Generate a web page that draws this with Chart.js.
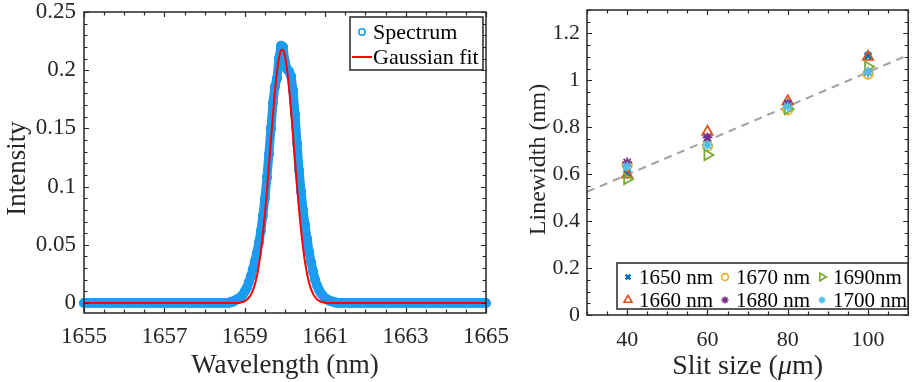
<!DOCTYPE html>
<html>
<head>
<meta charset="utf-8">
<script src="https://cdn.jsdelivr.net/npm/chart.js@4.4.1/dist/chart.umd.min.js"></script>
<style>
  html, body { margin: 0; padding: 0; background: #fff; }
  #wrap { position: relative; width: 916px; height: 382px; overflow: hidden; }
  canvas { position: absolute; top: 0; }
  #spec { left: 0; }
  #slit { left: 500px; }
</style>
</head>
<body>
<div id="wrap">
  <canvas id="spec" width="530" height="382"></canvas>
  <canvas id="slit" width="416" height="382"></canvas>
</div>
<script>
// ---------- Spectrum panel data ----------
const spectrumWavelength = [
  1655.0, 1655.1, 1655.2, 1655.3, 1655.4, 1655.5, 1655.6, 1655.7, 1655.8, 1655.9,
  1656.0, 1656.1, 1656.2, 1656.3, 1656.4, 1656.5, 1656.6, 1656.7, 1656.8, 1656.9,
  1657.0, 1657.1, 1657.2, 1657.3, 1657.4, 1657.5, 1657.6, 1657.7, 1657.8, 1657.9,
  1658.0, 1658.1, 1658.2, 1658.3, 1658.4, 1658.5,
  1658.60, 1658.65, 1658.70, 1658.75, 1658.80, 1658.85, 1658.90, 1658.95, 1659.00, 1659.05,
  1659.10, 1659.15, 1659.20, 1659.25, 1659.30, 1659.35, 1659.40, 1659.45, 1659.50, 1659.55,
  1659.60, 1659.65, 1659.70, 1659.75, 1659.80, 1659.85, 1659.90, 1659.95, 1660.00, 1660.05,
  1660.10, 1660.15, 1660.20, 1660.25, 1660.30, 1660.35, 1660.40, 1660.45, 1660.50, 1660.55,
  1660.60, 1660.65, 1660.70, 1660.75, 1660.80, 1660.85, 1660.90, 1660.95, 1661.00, 1661.05,
  1661.10, 1661.15, 1661.20, 1661.25, 1661.30, 1661.35, 1661.40,
  1661.5, 1661.6, 1661.7, 1661.8, 1661.9,
  1662.0, 1662.1, 1662.2, 1662.3, 1662.4, 1662.5, 1662.6, 1662.7, 1662.8, 1662.9,
  1663.0, 1663.1, 1663.2, 1663.3, 1663.4, 1663.5, 1663.6, 1663.7, 1663.8, 1663.9,
  1664.0, 1664.1, 1664.2, 1664.3, 1664.4, 1664.5, 1664.6, 1664.7, 1664.8, 1664.9,
  1665.0
];
const spectrumIntensity = [
  0, 0, 0, 0, 0, 0, 0, 0, 0, 0,
  0, 0, 0, 0, 0, 0, 0, 0, 0, 0,
  0, 0, 0, 0, 0, 0, 0, 0, 0, 0,
  0, 0, 0, 0, 0, 0,
  0.000, 0.001, 0.001, 0.002, 0.003, 0.004, 0.005, 0.007, 0.010, 0.013,
  0.018, 0.023, 0.029, 0.036, 0.043, 0.052, 0.062, 0.075, 0.090, 0.108,
  0.128, 0.150, 0.172, 0.186, 0.193, 0.210, 0.221, 0.220, 0.207, 0.201,
  0.199, 0.195, 0.183, 0.162, 0.137, 0.114, 0.096, 0.080, 0.067, 0.055,
  0.044, 0.035, 0.027, 0.020, 0.015, 0.011, 0.008, 0.006, 0.004, 0.003,
  0.002, 0.0015, 0.001, 0.0005, 0.000, 0.000, 0.000,
  0, 0, 0, 0, 0,
  0, 0, 0, 0, 0, 0, 0, 0, 0, 0,
  0, 0, 0, 0, 0, 0, 0, 0, 0, 0,
  0, 0, 0, 0, 0, 0, 0, 0, 0, 0,
  0
];
const fitWavelength = [
  1655.0, 1658.8, 1658.9, 1659.0, 1659.1, 1659.2, 1659.3, 1659.4, 1659.5,
  1659.55, 1659.6, 1659.65, 1659.7, 1659.75, 1659.8, 1659.85, 1659.9, 1659.95, 1660.0,
  1660.05, 1660.1, 1660.15, 1660.2, 1660.25, 1660.3, 1660.35, 1660.4,
  1660.5, 1660.6, 1660.7, 1660.8, 1660.9, 1661.0, 1661.1, 1665.0
];
const fitIntensity = [
  0, 0, 0.0005, 0.0016, 0.0044, 0.0106, 0.0230, 0.0444, 0.0764,
  0.0961, 0.1176, 0.1398, 0.1615, 0.1814, 0.1981, 0.2102, 0.2169, 0.2175, 0.2120,
  0.2009, 0.1851, 0.1657, 0.1442, 0.1220, 0.1003, 0.0802, 0.0623,
  0.0346, 0.0171, 0.0076, 0.0030, 0.0011, 0.0003, 0, 0
];
const specXTicks = [1655, 1657, 1659, 1661, 1663, 1665];
const specYTicks = [0, 0.05, 0.1, 0.15, 0.2, 0.25];
const specYTickLabels = ['0', '0.05', '0.1', '0.15', '0.2', '0.25'];

// ---------- Linewidth panel data ----------
const slitSize = [40, 60, 80, 100];
const lw1650 = [0.604, 0.750, 0.900, 1.105];
const lw1660 = [0.598, 0.781, 0.911, 1.100];
const lw1670 = [0.639, 0.720, 0.875, 1.027];
const lw1680 = [0.650, 0.757, 0.900, 1.035];
const lw1690 = [0.580, 0.682, 0.878, 1.058];
const lw1700 = [0.633, 0.724, 0.888, 1.035];
const trendSlit = [30, 110];
const trendLinewidth = [0.525, 1.108];
const slitXTicks = [40, 60, 80, 100];
const slitYTicks = [0, 0.2, 0.4, 0.6, 0.8, 1, 1.2];
const slitYTickLabels = ['0', '0.2', '0.4', '0.6', '0.8', '1', '1.2'];

// ---------- shared helpers ----------
const SERIF = "'Liberation Serif', 'Times New Roman', serif";
const INK = '#262626';
const pts = (xs, ys) => xs.map((x, i) => ({ x, y: ys[i] }));

function drawMarker(ctx, style, x, y, r, rotation, color, width) {
  ctx.save();
  ctx.translate(x, y);
  ctx.rotate((rotation || 0) * Math.PI / 180);
  ctx.strokeStyle = color;
  ctx.lineWidth = width;
  ctx.beginPath();
  if (style === 'circle') {
    ctx.arc(0, 0, r, 0, Math.PI * 2);
  } else if (style === 'triangle') {
    for (let k = 0; k < 3; k++) {
      const a = k * 2 * Math.PI / 3;
      const px = Math.sin(a) * r, py = -Math.cos(a) * r;
      if (k) ctx.lineTo(px, py); else ctx.moveTo(px, py);
    }
    ctx.closePath();
  } else {
    const d = r * Math.SQRT1_2;
    ctx.moveTo(-d, -d); ctx.lineTo(d, d);
    ctx.moveTo(-d, d); ctx.lineTo(d, -d);
    if (style === 'star') {
      ctx.moveTo(0, -r); ctx.lineTo(0, r);
      ctx.moveTo(-r, 0); ctx.lineTo(r, 0);
    }
  }
  ctx.stroke();
  ctx.restore();
}

// Box frame with inward major/minor ticks on all four sides
const axisFrame = {
  id: 'axisFrame',
  afterDatasetsDraw(chart, args, o) {
    const { ctx, chartArea: a } = chart;
    const xs = chart.scales.x, ys = chart.scales.y;
    ctx.save();
    ctx.strokeStyle = INK;
    ctx.lineWidth = 1.2;
    ctx.beginPath();
    const tickX = (v, len) => {
      const p = Math.round(xs.getPixelForValue(v)) + 0.5;
      ctx.moveTo(p, a.bottom); ctx.lineTo(p, a.bottom - len);
      ctx.moveTo(p, a.top); ctx.lineTo(p, a.top + len);
    };
    const tickY = (v, len) => {
      const p = Math.round(ys.getPixelForValue(v)) + 0.5;
      ctx.moveTo(a.left, p); ctx.lineTo(a.left + len, p);
      ctx.moveTo(a.right, p); ctx.lineTo(a.right - len, p);
    };
    const k0x = Math.ceil(xs.min / o.xMinor - 1e-6), k1x = Math.floor(xs.max / o.xMinor + 1e-6);
    for (let k = k0x; k <= k1x; k++) tickX(k * o.xMinor, o.minorLen);
    const k0y = Math.ceil(ys.min / o.yMinor - 1e-6), k1y = Math.floor(ys.max / o.yMinor + 1e-6);
    for (let k = k0y; k <= k1y; k++) tickY(k * o.yMinor, o.minorLen);
    xs.ticks.forEach(t => tickX(t.value, o.majorLen));
    ys.ticks.forEach(t => tickY(t.value, o.majorLen));
    ctx.stroke();
    ctx.lineWidth = 1.5;
    ctx.strokeRect(a.left, a.top, a.width, a.height);
    ctx.restore();
  }
};

// Axis titles (supports mixed roman / italic runs)
const axisTitles = {
  id: 'axisTitles',
  afterDraw(chart, args, o) {
    const { ctx, chartArea: a } = chart;
    ctx.save();
    ctx.fillStyle = INK;
    ctx.textBaseline = 'middle';
    const runs = o.x.runs;
    let total = 0;
    runs.forEach(r => { ctx.font = `${r.italic ? 'italic ' : ''}${o.x.size}px ${SERIF}`; total += ctx.measureText(r.text).width; });
    let cx = (a.left + a.right) / 2 - total / 2 + (o.x.dx || 0);
    ctx.textAlign = 'left';
    runs.forEach(r => {
      ctx.font = `${r.italic ? 'italic ' : ''}${o.x.size}px ${SERIF}`;
      ctx.fillText(r.text, cx, o.x.y);
      cx += ctx.measureText(r.text).width;
    });
    ctx.translate(o.y.x, (a.top + a.bottom) / 2 + (o.y.dy || 0));
    ctx.rotate(-Math.PI / 2);
    ctx.textAlign = 'center';
    ctx.font = `${o.y.size}px ${SERIF}`;
    ctx.fillText(o.y.text, 0, 0);
    ctx.restore();
  }
};

// In-axes legend box
const boxLegend = {
  id: 'boxLegend',
  afterDraw(chart, args, o) {
    const { ctx } = chart;
    ctx.save();
    ctx.fillStyle = '#fff';
    ctx.fillRect(o.box.x, o.box.y, o.box.w, o.box.h);
    ctx.strokeStyle = INK;
    ctx.lineWidth = 1.5;
    ctx.strokeRect(o.box.x, o.box.y, o.box.w, o.box.h);
    ctx.font = `${o.size}px ${SERIF}`;
    ctx.fillStyle = '#000';
    ctx.textBaseline = 'middle';
    ctx.textAlign = 'left';
    o.items.forEach(it => {
      const ds = chart.data.datasets[it.dataset];
      if (it.kind === 'line') {
        ctx.strokeStyle = ds.borderColor;
        ctx.lineWidth = 2;
        ctx.beginPath();
        ctx.moveTo(it.mx - 10, it.y); ctx.lineTo(it.mx + 10, it.y);
        ctx.stroke();
      } else {
        drawMarker(ctx, ds.pointStyle, it.mx, it.y, it.r || ds.pointRadius, ds.rotation,
          ds.pointBorderColor || ds.borderColor, it.w || ds.pointBorderWidth);
      }
      ctx.fillText(ds.label, it.tx, it.y + 1);
    });
    ctx.restore();
  }
};

// ---------- Spectrum chart ----------
const SPEC_BLUE = 'rgb(28,156,240)';
new Chart(document.getElementById('spec'), {
  type: 'scatter',
  data: {
    datasets: [
      {
        label: 'Gaussian fit',
        data: pts(fitWavelength, fitIntensity),
        showLine: true,
        borderColor: 'rgb(255,0,0)',
        borderWidth: 2,
        pointRadius: 0,
        cubicInterpolationMode: 'monotone',
        clip: false,
        order: 0
      },
      {
        label: 'Spectrum',
        data: pts(spectrumWavelength, spectrumIntensity),
        showLine: true,
        borderColor: SPEC_BLUE,
        borderWidth: 9,
        borderCapStyle: 'round',
        borderJoinStyle: 'round',
        pointStyle: 'circle',
        pointRadius: 4.2,
        pointBorderWidth: 1.8,
        pointBorderColor: SPEC_BLUE,
        pointBackgroundColor: 'rgba(255,255,255,0)',
        clip: false,
        order: 1
      }
    ]
  },
  options: {
    responsive: false,
    animation: false,
    events: [],
    layout: { padding: { left: 0, right: 44, top: 12, bottom: 0 } },
    scales: {
      x: {
        type: 'linear', min: 1655, max: 1665,
        grid: { display: false, drawTicks: false }, border: { display: false },
        afterBuildTicks: s => { s.ticks = specXTicks.map(v => ({ value: v })); },
        afterFit: s => { s.height = 69; s.paddingLeft = 0; s.paddingRight = 0; },
        ticks: { padding: 10, color: INK, font: { family: SERIF, size: 23 }, maxRotation: 0, autoSkip: false,
          callback: v => String(v) }
      },
      y: {
        type: 'linear', min: -0.0086, max: 0.25,
        grid: { display: false, drawTicks: false }, border: { display: false },
        afterBuildTicks: s => { s.ticks = specYTicks.map(v => ({ value: v })); },
        afterFit: s => { s.width = 84; s.paddingTop = 0; s.paddingBottom = 0; },
        ticks: { padding: 8, color: INK, font: { family: SERIF, size: 23 }, autoSkip: false,
          callback: (v, i) => specYTickLabels[i] }
      }
    },
    plugins: {
      legend: { display: false },
      tooltip: { enabled: false },
      axisFrame: { xMinor: 0.5, yMinor: 0.01, majorLen: 5, minorLen: 3.5 },
      axisTitles: {
        x: { runs: [{ text: 'Wavelength (nm)' }], size: 27, y: 366 },
        y: { text: 'Intensity', size: 27, x: 18, dy: 6 }
      },
      boxLegend: {
        box: { x: 350, y: 17, w: 133, h: 53 },
        size: 22,
        items: [
          { dataset: 1, kind: 'marker', mx: 362, tx: 373, y: 32, r: 3.2, w: 1.6 },
          { dataset: 0, kind: 'line', mx: 362, tx: 373, y: 57 }
        ]
      }
    }
  },
  plugins: [axisFrame, axisTitles, boxLegend]
});

// ---------- Linewidth vs slit size chart ----------
const series = [
  { label: '1650 nm', y: lw1650, color: '#0072BD', style: 'crossRot', r: 4.5, w: 3, rot: 0 },
  { label: '1660 nm', y: lw1660, color: '#D95319', style: 'triangle', r: 6, w: 1.8, rot: 0 },
  { label: '1670 nm', y: lw1670, color: '#EDB120', style: 'circle', r: 4.8, w: 1.8, rot: 0 },
  { label: '1680 nm', y: lw1680, color: '#7E2F8E', style: 'star', r: 5, w: 1.8, rot: 0 },
  { label: '1690nm', y: lw1690, color: '#77AC30', style: 'triangle', r: 6, w: 1.8, rot: 90 },
  { label: '1700 nm', y: lw1700, color: '#4DBEEE', style: 'star', r: 5, w: 1.8, rot: 0 }
];
const slitDatasets = series.map((s, i) => ({
  label: s.label,
  data: pts(slitSize, s.y),
  showLine: false,
  pointStyle: s.style,
  pointRadius: s.r,
  rotation: s.rot,
  pointBorderWidth: s.w,
  pointBorderColor: s.color,
  borderColor: s.color,
  pointBackgroundColor: 'rgba(0,0,0,0)',
  clip: false,
  order: series.length - i
}));
slitDatasets.push({
  label: 'trend',
  data: pts(trendSlit, trendLinewidth),
  showLine: true,
  borderColor: 'rgb(160,160,160)',
  borderWidth: 2,
  borderDash: [8, 6],
  pointRadius: 0,
  order: 20
});

new Chart(document.getElementById('slit'), {
  type: 'scatter',
  data: { datasets: slitDatasets },
  options: {
    responsive: false,
    animation: false,
    events: [],
    layout: { padding: { left: 0, right: 2, top: 10, bottom: 0 } },
    scales: {
      x: {
        type: 'linear', min: 30, max: 110,
        grid: { display: false, drawTicks: false }, border: { display: false },
        afterBuildTicks: s => { s.ticks = slitXTicks.map(v => ({ value: v })); },
        afterFit: s => { s.height = 67; s.paddingLeft = 0; s.paddingRight = 0; },
        ticks: { padding: 12, color: INK, font: { family: SERIF, size: 22 }, maxRotation: 0, autoSkip: false,
          callback: v => String(v) }
      },
      y: {
        type: 'linear', min: 0, max: 1.3,
        grid: { display: false, drawTicks: false }, border: { display: false },
        afterBuildTicks: s => { s.ticks = slitYTicks.map(v => ({ value: v })); },
        afterFit: s => { s.width = 87; s.paddingTop = 0; s.paddingBottom = 0; },
        ticks: { padding: 7, color: INK, font: { family: SERIF, size: 22 }, autoSkip: false,
          callback: (v, i) => slitYTickLabels[i] }
      }
    },
    plugins: {
      legend: { display: false },
      tooltip: { enabled: false },
      axisFrame: { xMinor: 5, yMinor: 0.05, majorLen: 5, minorLen: 3.5 },
      axisTitles: {
        x: { runs: [{ text: 'Slit size (' }, { text: '\u03bc', italic: true }, { text: 'm)' }], size: 28, y: 367 },
        y: { text: 'Linewidth (nm)', size: 24, x: 39, dy: -3 }
      },
      boxLegend: {
        box: { x: 117, y: 263, w: 291, h: 46 },
        size: 21,
        items: [
          { dataset: 0, mx: 128, tx: 139, y: 277, r: 3.4, w: 2.6 },
          { dataset: 2, mx: 225, tx: 236, y: 277, r: 3.4, w: 1.6 },
          { dataset: 4, mx: 322, tx: 333, y: 277, r: 4.4, w: 1.6 },
          { dataset: 1, mx: 128, tx: 139, y: 300, r: 4.6, w: 1.6 },
          { dataset: 3, mx: 225, tx: 236, y: 300, r: 3.6, w: 1.6 },
          { dataset: 5, mx: 322, tx: 333, y: 300, r: 3.6, w: 1.6 }
        ]
      }
    }
  },
  plugins: [axisFrame, axisTitles, boxLegend]
});
</script>
</body>
</html>
